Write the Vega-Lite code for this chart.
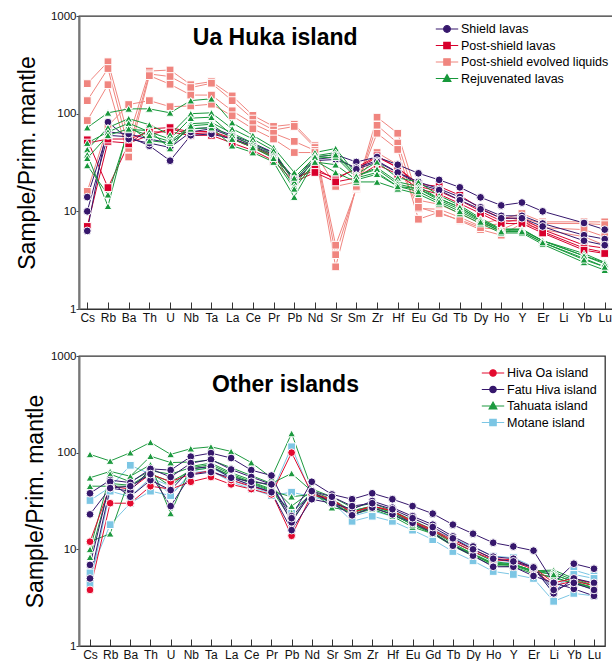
{
"$schema": "https://vega.github.io/schema/vega-lite/v6.json",
"padding": {"left": 15, "top": 9, "right": 0, "bottom": 0},
"spacing": 25,
"datasets": {
"ua_s": [{"i":"E1","g":"Post-shield evolved liquids"},{"i":"E2","g":"Post-shield evolved liquids"},{"i":"E3","g":"Post-shield evolved liquids"},{"i":"E4","g":"Post-shield evolved liquids"},{"i":"P1","g":"Post-shield lavas"},{"i":"P2","g":"Post-shield lavas"},{"i":"P3","g":"Post-shield lavas"},{"i":"S1","g":"Shield lavas"},{"i":"S2","g":"Shield lavas"},{"i":"S3","g":"Shield lavas"},{"i":"R1","g":"Rejuvenated lavas"},{"i":"R2","g":"Rejuvenated lavas"},{"i":"R3","g":"Rejuvenated lavas"},{"i":"R4","g":"Rejuvenated lavas"},{"i":"R5","g":"Rejuvenated lavas"},{"i":"R6","g":"Rejuvenated lavas"}],
"oth_s": [{"i":"M1","g":"Motane island"},{"i":"M2","g":"Motane island"},{"i":"M3","g":"Motane island"},{"i":"T1","g":"Tahuata island"},{"i":"T2","g":"Tahuata island"},{"i":"T3","g":"Tahuata island"},{"i":"T4","g":"Tahuata island"},{"i":"T5","g":"Tahuata island"},{"i":"T6","g":"Tahuata island"},{"i":"H1","g":"Hiva Oa island"},{"i":"H2","g":"Hiva Oa island"},{"i":"F1","g":"Fatu Hiva island"},{"i":"F2","g":"Fatu Hiva island"},{"i":"F3","g":"Fatu Hiva island"},{"i":"F4","g":"Fatu Hiva island"}],
"ua": [
{"i":"E1","e":"Cs","v":203},{"i":"E1","e":"Rb","v":340},{"i":"E1","e":"Ba","v":57},{"i":"E1","e":"Th","v":273},{"i":"E1","e":"U","v":280},{"i":"E1","e":"Nb","v":198},{"i":"E1","e":"Ta","v":213},{"i":"E1","e":"La","v":152},{"i":"E1","e":"Ce","v":96},{"i":"E1","e":"Pr","v":74},{"i":"E1","e":"Pb","v":78},{"i":"E1","e":"Nd","v":47},{"i":"E1","e":"Sr","v":4.5},{"i":"E1","e":"Sm","v":17},{"i":"E1","e":"Zr","v":92},{"i":"E1","e":"Hf","v":63},{"i":"E1","e":"Eu","v":13},{"i":"E1","e":"Gd","v":11.8},{"i":"E1","e":"Tb","v":9.5},{"i":"E1","e":"Dy","v":7.5},{"i":"E1","e":"Ho","v":8.3},{"i":"E1","e":"Y","v":9.5},{"i":"E1","e":"Er","v":7.8},{"i":"E1","e":"Yb","v":7.8},{"i":"E1","e":"Lu","v":7.8},
{"i":"E2","e":"Cs","v":136},{"i":"E2","e":"Rb","v":290},{"i":"E2","e":"Ba","v":44},{"i":"E2","e":"Th","v":255},{"i":"E2","e":"U","v":240},{"i":"E2","e":"Nb","v":185},{"i":"E2","e":"Ta","v":205},{"i":"E2","e":"La","v":136},{"i":"E2","e":"Ce","v":88},{"i":"E2","e":"Pr","v":68},{"i":"E2","e":"Pb","v":74},{"i":"E2","e":"Nd","v":45},{"i":"E2","e":"Sr","v":3.6},{"i":"E2","e":"Sm","v":17.5},{"i":"E2","e":"Zr","v":76},{"i":"E2","e":"Hf","v":50},{"i":"E2","e":"Eu","v":10.7},{"i":"E2","e":"Gd","v":10.5},{"i":"E2","e":"Tb","v":8.7},{"i":"E2","e":"Dy","v":7},{"i":"E2","e":"Ho","v":7.5},{"i":"E2","e":"Y","v":8.5},{"i":"E2","e":"Er","v":7.5},{"i":"E2","e":"Yb","v":7.5},{"i":"E2","e":"Lu","v":7.3},
{"i":"E3","e":"Cs","v":85},{"i":"E3","e":"Rb","v":198},{"i":"E3","e":"Ba","v":36},{"i":"E3","e":"Th","v":245},{"i":"E3","e":"U","v":200},{"i":"E3","e":"Nb","v":155},{"i":"E3","e":"Ta","v":155},{"i":"E3","e":"La","v":107},{"i":"E3","e":"Ce","v":79},{"i":"E3","e":"Pr","v":63},{"i":"E3","e":"Pb","v":52},{"i":"E3","e":"Nd","v":42},{"i":"E3","e":"Sr","v":2.7},{"i":"E3","e":"Sm","v":18},{"i":"E3","e":"Zr","v":63},{"i":"E3","e":"Hf","v":43},{"i":"E3","e":"Eu","v":8.3},{"i":"E3","e":"Gd","v":9.8},{"i":"E3","e":"Tb","v":8},{"i":"E3","e":"Dy","v":6.5},{"i":"E3","e":"Ho","v":5.7},{"i":"E3","e":"Y","v":7.5},{"i":"E3","e":"Er","v":6.5},{"i":"E3","e":"Yb","v":5.5},{"i":"E3","e":"Lu","v":4.5},
{"i":"E4","e":"Cs","v":16},{"i":"E4","e":"Rb","v":75},{"i":"E4","e":"Ba","v":124},{"i":"E4","e":"Th","v":136},{"i":"E4","e":"U","v":118},{"i":"E4","e":"Nb","v":120},{"i":"E4","e":"Ta","v":125},{"i":"E4","e":"La","v":95},{"i":"E4","e":"Ce","v":70},{"i":"E4","e":"Pr","v":55},{"i":"E4","e":"Pb","v":40},{"i":"E4","e":"Nd","v":40},{"i":"E4","e":"Sr","v":18},{"i":"E4","e":"Sm","v":20},{"i":"E4","e":"Zr","v":40},{"i":"E4","e":"Hf","v":30},{"i":"E4","e":"Eu","v":11},{"i":"E4","e":"Gd","v":9.5},{"i":"E4","e":"Tb","v":8.2},{"i":"E4","e":"Dy","v":6.8},{"i":"E4","e":"Ho","v":6.5},{"i":"E4","e":"Y","v":8},{"i":"E4","e":"Er","v":6.8},{"i":"E4","e":"Yb","v":6.5},{"i":"E4","e":"Lu","v":5.5},
{"i":"P1","e":"Cs","v":7},{"i":"P1","e":"Rb","v":52},{"i":"P1","e":"Ba","v":50},{"i":"P1","e":"Th","v":60},{"i":"P1","e":"U","v":70},{"i":"P1","e":"Nb","v":62},{"i":"P1","e":"Ta","v":64},{"i":"P1","e":"La","v":55},{"i":"P1","e":"Ce","v":45},{"i":"P1","e":"Pr","v":36},{"i":"P1","e":"Pb","v":22},{"i":"P1","e":"Nd","v":26},{"i":"P1","e":"Sr","v":22},{"i":"P1","e":"Sm","v":27},{"i":"P1","e":"Zr","v":36},{"i":"P1","e":"Hf","v":28},{"i":"P1","e":"Eu","v":19},{"i":"P1","e":"Gd","v":18},{"i":"P1","e":"Tb","v":14.6},{"i":"P1","e":"Dy","v":10.7},{"i":"P1","e":"Ho","v":8.5},{"i":"P1","e":"Y","v":8.5},{"i":"P1","e":"Er","v":6.5},{"i":"P1","e":"Yb","v":4.5},{"i":"P1","e":"Lu","v":4.2},
{"i":"P2","e":"Cs","v":54},{"i":"P2","e":"Rb","v":17.5},{"i":"P2","e":"Ba","v":49},{"i":"P2","e":"Th","v":70},{"i":"P2","e":"U","v":72},{"i":"P2","e":"Nb","v":65},{"i":"P2","e":"Ta","v":66},{"i":"P2","e":"La","v":56},{"i":"P2","e":"Ce","v":46},{"i":"P2","e":"Pr","v":37},{"i":"P2","e":"Pb","v":21},{"i":"P2","e":"Nd","v":28},{"i":"P2","e":"Sr","v":21},{"i":"P2","e":"Sm","v":28},{"i":"P2","e":"Zr","v":37},{"i":"P2","e":"Hf","v":28},{"i":"P2","e":"Eu","v":18},{"i":"P2","e":"Gd","v":16},{"i":"P2","e":"Tb","v":13},{"i":"P2","e":"Dy","v":10},{"i":"P2","e":"Ho","v":8},{"i":"P2","e":"Y","v":8},{"i":"P2","e":"Er","v":6.2},{"i":"P2","e":"Yb","v":4.2},{"i":"P2","e":"Lu","v":3.8},
{"i":"P3","e":"Cs","v":50},{"i":"P3","e":"Rb","v":55},{"i":"P3","e":"Ba","v":55},{"i":"P3","e":"Th","v":65},{"i":"P3","e":"U","v":65},{"i":"P3","e":"Nb","v":60},{"i":"P3","e":"Ta","v":60},{"i":"P3","e":"La","v":50},{"i":"P3","e":"Ce","v":42},{"i":"P3","e":"Pr","v":33},{"i":"P3","e":"Pb","v":20},{"i":"P3","e":"Nd","v":25},{"i":"P3","e":"Sr","v":20},{"i":"P3","e":"Sm","v":22},{"i":"P3","e":"Zr","v":30},{"i":"P3","e":"Hf","v":24},{"i":"P3","e":"Eu","v":17},{"i":"P3","e":"Gd","v":15},{"i":"P3","e":"Tb","v":12},{"i":"P3","e":"Dy","v":9.5},{"i":"P3","e":"Ho","v":7.5},{"i":"P3","e":"Y","v":7.5},{"i":"P3","e":"Er","v":6},{"i":"P3","e":"Yb","v":4},{"i":"P3","e":"Lu","v":3.7},
{"i":"S1","e":"Cs","v":10},{"i":"S1","e":"Rb","v":60},{"i":"S1","e":"Ba","v":58},{"i":"S1","e":"Th","v":47},{"i":"S1","e":"U","v":33},{"i":"S1","e":"Nb","v":60},{"i":"S1","e":"Ta","v":62},{"i":"S1","e":"La","v":55},{"i":"S1","e":"Ce","v":47},{"i":"S1","e":"Pr","v":38},{"i":"S1","e":"Pb","v":22},{"i":"S1","e":"Nd","v":36},{"i":"S1","e":"Sr","v":38},{"i":"S1","e":"Sm","v":32},{"i":"S1","e":"Zr","v":36},{"i":"S1","e":"Hf","v":30},{"i":"S1","e":"Eu","v":24.5},{"i":"S1","e":"Gd","v":21},{"i":"S1","e":"Tb","v":17.6},{"i":"S1","e":"Dy","v":13.9},{"i":"S1","e":"Ho","v":11.5},{"i":"S1","e":"Y","v":12.3},{"i":"S1","e":"Er","v":10},{"i":"S1","e":"Yb","v":7.6},{"i":"S1","e":"Lu","v":6.5},
{"i":"S2","e":"Cs","v":6.3},{"i":"S2","e":"Rb","v":82},{"i":"S2","e":"Ba","v":55},{"i":"S2","e":"Th","v":50},{"i":"S2","e":"U","v":45},{"i":"S2","e":"Nb","v":65},{"i":"S2","e":"Ta","v":70},{"i":"S2","e":"La","v":58},{"i":"S2","e":"Ce","v":48},{"i":"S2","e":"Pr","v":40},{"i":"S2","e":"Pb","v":20},{"i":"S2","e":"Nd","v":33},{"i":"S2","e":"Sr","v":34},{"i":"S2","e":"Sm","v":28},{"i":"S2","e":"Zr","v":33},{"i":"S2","e":"Hf","v":25},{"i":"S2","e":"Eu","v":20},{"i":"S2","e":"Gd","v":17},{"i":"S2","e":"Tb","v":14},{"i":"S2","e":"Dy","v":11},{"i":"S2","e":"Ho","v":9},{"i":"S2","e":"Y","v":9},{"i":"S2","e":"Er","v":7.5},{"i":"S2","e":"Yb","v":5.7},{"i":"S2","e":"Lu","v":5.2},
{"i":"S3","e":"Cs","v":14},{"i":"S3","e":"Rb","v":65},{"i":"S3","e":"Ba","v":62},{"i":"S3","e":"Th","v":55},{"i":"S3","e":"U","v":50},{"i":"S3","e":"Nb","v":70},{"i":"S3","e":"Ta","v":72},{"i":"S3","e":"La","v":60},{"i":"S3","e":"Ce","v":50},{"i":"S3","e":"Pr","v":40},{"i":"S3","e":"Pb","v":21},{"i":"S3","e":"Nd","v":34},{"i":"S3","e":"Sr","v":36},{"i":"S3","e":"Sm","v":27},{"i":"S3","e":"Zr","v":32},{"i":"S3","e":"Hf","v":25},{"i":"S3","e":"Eu","v":19},{"i":"S3","e":"Gd","v":16.5},{"i":"S3","e":"Tb","v":13},{"i":"S3","e":"Dy","v":10.5},{"i":"S3","e":"Ho","v":8.5},{"i":"S3","e":"Y","v":8.5},{"i":"S3","e":"Er","v":7},{"i":"S3","e":"Yb","v":5},{"i":"S3","e":"Lu","v":4.5},
{"i":"R1","e":"Cs","v":72},{"i":"R1","e":"Rb","v":102},{"i":"R1","e":"Ba","v":112},{"i":"R1","e":"Th","v":112},{"i":"R1","e":"U","v":102},{"i":"R1","e":"Nb","v":136},{"i":"R1","e":"Ta","v":142},{"i":"R1","e":"La","v":81},{"i":"R1","e":"Ce","v":60},{"i":"R1","e":"Pr","v":45},{"i":"R1","e":"Pb","v":25},{"i":"R1","e":"Nd","v":40},{"i":"R1","e":"Sr","v":44},{"i":"R1","e":"Sm","v":24},{"i":"R1","e":"Zr","v":32},{"i":"R1","e":"Hf","v":22},{"i":"R1","e":"Eu","v":20},{"i":"R1","e":"Gd","v":14.5},{"i":"R1","e":"Tb","v":11.5},{"i":"R1","e":"Dy","v":8.5},{"i":"R1","e":"Ho","v":6.6},{"i":"R1","e":"Y","v":6.6},{"i":"R1","e":"Er","v":5},{"i":"R1","e":"Yb","v":3.7},{"i":"R1","e":"Lu","v":3.0},
{"i":"R2","e":"Cs","v":43},{"i":"R2","e":"Rb","v":72},{"i":"R2","e":"Ba","v":89},{"i":"R2","e":"Th","v":77},{"i":"R2","e":"U","v":61},{"i":"R2","e":"Nb","v":100},{"i":"R2","e":"Ta","v":102},{"i":"R2","e":"La","v":70},{"i":"R2","e":"Ce","v":55},{"i":"R2","e":"Pr","v":42},{"i":"R2","e":"Pb","v":20},{"i":"R2","e":"Nd","v":37},{"i":"R2","e":"Sr","v":40},{"i":"R2","e":"Sm","v":23},{"i":"R2","e":"Zr","v":28},{"i":"R2","e":"Hf","v":20},{"i":"R2","e":"Eu","v":18},{"i":"R2","e":"Gd","v":13.5},{"i":"R2","e":"Tb","v":11},{"i":"R2","e":"Dy","v":8.2},{"i":"R2","e":"Ho","v":6.5},{"i":"R2","e":"Y","v":6.5},{"i":"R2","e":"Er","v":5},{"i":"R2","e":"Yb","v":3.5},{"i":"R2","e":"Lu","v":3.0},
{"i":"R3","e":"Cs","v":29.5},{"i":"R3","e":"Rb","v":14.8},{"i":"R3","e":"Ba","v":69},{"i":"R3","e":"Th","v":67},{"i":"R3","e":"U","v":44},{"i":"R3","e":"Nb","v":79},{"i":"R3","e":"Ta","v":81},{"i":"R3","e":"La","v":63},{"i":"R3","e":"Ce","v":50},{"i":"R3","e":"Pr","v":38},{"i":"R3","e":"Pb","v":18},{"i":"R3","e":"Nd","v":35},{"i":"R3","e":"Sr","v":36},{"i":"R3","e":"Sm","v":22},{"i":"R3","e":"Zr","v":25},{"i":"R3","e":"Hf","v":18},{"i":"R3","e":"Eu","v":17},{"i":"R3","e":"Gd","v":13},{"i":"R3","e":"Tb","v":10.5},{"i":"R3","e":"Dy","v":8},{"i":"R3","e":"Ho","v":6.2},{"i":"R3","e":"Y","v":6.2},{"i":"R3","e":"Er","v":4.8},{"i":"R3","e":"Yb","v":3.3},{"i":"R3","e":"Lu","v":2.7},
{"i":"R4","e":"Cs","v":38},{"i":"R4","e":"Rb","v":11.3},{"i":"R4","e":"Ba","v":75},{"i":"R4","e":"Th","v":53},{"i":"R4","e":"U","v":50},{"i":"R4","e":"Nb","v":70},{"i":"R4","e":"Ta","v":72},{"i":"R4","e":"La","v":47},{"i":"R4","e":"Ce","v":40},{"i":"R4","e":"Pr","v":32},{"i":"R4","e":"Pb","v":14},{"i":"R4","e":"Nd","v":33},{"i":"R4","e":"Sr","v":25},{"i":"R4","e":"Sm","v":20},{"i":"R4","e":"Zr","v":20},{"i":"R4","e":"Hf","v":17},{"i":"R4","e":"Eu","v":15},{"i":"R4","e":"Gd","v":12},{"i":"R4","e":"Tb","v":9.5},{"i":"R4","e":"Dy","v":7.5},{"i":"R4","e":"Ho","v":6},{"i":"R4","e":"Y","v":6},{"i":"R4","e":"Er","v":4.6},{"i":"R4","e":"Yb","v":3.0},{"i":"R4","e":"Lu","v":2.5},
{"i":"R5","e":"Cs","v":50},{"i":"R5","e":"Rb","v":65},{"i":"R5","e":"Ba","v":80},{"i":"R5","e":"Th","v":65},{"i":"R5","e":"U","v":55},{"i":"R5","e":"Nb","v":90},{"i":"R5","e":"Ta","v":92},{"i":"R5","e":"La","v":60},{"i":"R5","e":"Ce","v":47},{"i":"R5","e":"Pr","v":36},{"i":"R5","e":"Pb","v":22},{"i":"R5","e":"Nd","v":36},{"i":"R5","e":"Sr","v":38},{"i":"R5","e":"Sm","v":23},{"i":"R5","e":"Zr","v":27},{"i":"R5","e":"Hf","v":19},{"i":"R5","e":"Eu","v":17},{"i":"R5","e":"Gd","v":13.5},{"i":"R5","e":"Tb","v":11},{"i":"R5","e":"Dy","v":8.2},{"i":"R5","e":"Ho","v":6.4},{"i":"R5","e":"Y","v":6.4},{"i":"R5","e":"Er","v":5},{"i":"R5","e":"Yb","v":3.5},{"i":"R5","e":"Lu","v":2.9},
{"i":"R6","e":"Cs","v":35},{"i":"R6","e":"Rb","v":60},{"i":"R6","e":"Ba","v":70},{"i":"R6","e":"Th","v":60},{"i":"R6","e":"U","v":52},{"i":"R6","e":"Nb","v":75},{"i":"R6","e":"Ta","v":78},{"i":"R6","e":"La","v":55},{"i":"R6","e":"Ce","v":45},{"i":"R6","e":"Pr","v":35},{"i":"R6","e":"Pb","v":17},{"i":"R6","e":"Nd","v":32},{"i":"R6","e":"Sr","v":30},{"i":"R6","e":"Sm","v":21},{"i":"R6","e":"Zr","v":24},{"i":"R6","e":"Hf","v":18},{"i":"R6","e":"Eu","v":16},{"i":"R6","e":"Gd","v":12.5},{"i":"R6","e":"Tb","v":10},{"i":"R6","e":"Dy","v":7.8},{"i":"R6","e":"Ho","v":6.2},{"i":"R6","e":"Y","v":6.2},{"i":"R6","e":"Er","v":4.8},{"i":"R6","e":"Yb","v":3.2},{"i":"R6","e":"Lu","v":2.7}
],
"oth": [
{"i":"M1","e":"Cs","v":32},{"i":"M1","e":"Rb","v":44},{"i":"M1","e":"Ba","v":74},{"i":"M1","e":"Th","v":60},{"i":"M1","e":"U","v":36},{"i":"M1","e":"Nb","v":62},{"i":"M1","e":"Ta","v":65},{"i":"M1","e":"La","v":52},{"i":"M1","e":"Ce","v":44},{"i":"M1","e":"Pr","v":38},{"i":"M1","e":"Pb","v":115},{"i":"M1","e":"Nd","v":36},{"i":"M1","e":"Sr","v":32},{"i":"M1","e":"Sm","v":22},{"i":"M1","e":"Zr","v":25},{"i":"M1","e":"Hf","v":22},{"i":"M1","e":"Eu","v":19},{"i":"M1","e":"Gd","v":16},{"i":"M1","e":"Tb","v":13},{"i":"M1","e":"Dy","v":10.5},{"i":"M1","e":"Ho","v":8.5},{"i":"M1","e":"Y","v":8.2},{"i":"M1","e":"Er","v":6.6},{"i":"M1","e":"Li","v":3.5},{"i":"M1","e":"Yb","v":6.1},{"i":"M1","e":"Lu","v":5.3},
{"i":"M2","e":"Cs","v":5.7},{"i":"M2","e":"Rb","v":18},{"i":"M2","e":"Ba","v":30},{"i":"M2","e":"Th","v":40},{"i":"M2","e":"U","v":36},{"i":"M2","e":"Nb","v":60},{"i":"M2","e":"Ta","v":65},{"i":"M2","e":"La","v":50},{"i":"M2","e":"Ce","v":42},{"i":"M2","e":"Pr","v":36},{"i":"M2","e":"Pb","v":39},{"i":"M2","e":"Nd","v":35},{"i":"M2","e":"Sr","v":31},{"i":"M2","e":"Sm","v":19.5},{"i":"M2","e":"Zr","v":22},{"i":"M2","e":"Hf","v":19.5},{"i":"M2","e":"Eu","v":15.8},{"i":"M2","e":"Gd","v":12.6},{"i":"M2","e":"Tb","v":9.5},{"i":"M2","e":"Dy","v":7.6},{"i":"M2","e":"Ho","v":5.9},{"i":"M2","e":"Y","v":5.5},{"i":"M2","e":"Er","v":5},{"i":"M2","e":"Li","v":2.9},{"i":"M2","e":"Yb","v":3.5},{"i":"M2","e":"Lu","v":3.3},
{"i":"M3","e":"Cs","v":4.4},{"i":"M3","e":"Rb","v":40},{"i":"M3","e":"Ba","v":35},{"i":"M3","e":"Th","v":55},{"i":"M3","e":"U","v":45},{"i":"M3","e":"Nb","v":65},{"i":"M3","e":"Ta","v":70},{"i":"M3","e":"La","v":55},{"i":"M3","e":"Ce","v":46},{"i":"M3","e":"Pr","v":40},{"i":"M3","e":"Pb","v":25},{"i":"M3","e":"Nd","v":37},{"i":"M3","e":"Sr","v":32},{"i":"M3","e":"Sm","v":24},{"i":"M3","e":"Zr","v":28},{"i":"M3","e":"Hf","v":24},{"i":"M3","e":"Eu","v":19},{"i":"M3","e":"Gd","v":15.5},{"i":"M3","e":"Tb","v":12},{"i":"M3","e":"Dy","v":9.5},{"i":"M3","e":"Ho","v":7.5},{"i":"M3","e":"Y","v":7.2},{"i":"M3","e":"Er","v":6.5},{"i":"M3","e":"Li","v":4},{"i":"M3","e":"Yb","v":5.5},{"i":"M3","e":"Lu","v":5},
{"i":"T1","e":"Cs","v":96},{"i":"T1","e":"Rb","v":82},{"i":"T1","e":"Ba","v":100},{"i":"T1","e":"Th","v":128},{"i":"T1","e":"U","v":96},{"i":"T1","e":"Nb","v":110},{"i":"T1","e":"Ta","v":115},{"i":"T1","e":"La","v":103},{"i":"T1","e":"Ce","v":79},{"i":"T1","e":"Pr","v":55},{"i":"T1","e":"Pb","v":158},{"i":"T1","e":"Nd","v":42},{"i":"T1","e":"Sr","v":35},{"i":"T1","e":"Sm","v":27},{"i":"T1","e":"Zr","v":30},{"i":"T1","e":"Hf","v":25},{"i":"T1","e":"Eu","v":20},{"i":"T1","e":"Gd","v":16},{"i":"T1","e":"Tb","v":12},{"i":"T1","e":"Dy","v":9.5},{"i":"T1","e":"Ho","v":7.5},{"i":"T1","e":"Y","v":7},{"i":"T1","e":"Er","v":6},{"i":"T1","e":"Li","v":6.1},{"i":"T1","e":"Yb","v":5},{"i":"T1","e":"Lu","v":4.2},
{"i":"T2","e":"Cs","v":55},{"i":"T2","e":"Rb","v":64},{"i":"T2","e":"Ba","v":57},{"i":"T2","e":"Th","v":92},{"i":"T2","e":"U","v":79},{"i":"T2","e":"Nb","v":80},{"i":"T2","e":"Ta","v":84},{"i":"T2","e":"La","v":70},{"i":"T2","e":"Ce","v":58},{"i":"T2","e":"Pr","v":48},{"i":"T2","e":"Pb","v":61},{"i":"T2","e":"Nd","v":40},{"i":"T2","e":"Sr","v":27},{"i":"T2","e":"Sm","v":25},{"i":"T2","e":"Zr","v":28},{"i":"T2","e":"Hf","v":24},{"i":"T2","e":"Eu","v":19},{"i":"T2","e":"Gd","v":15.5},{"i":"T2","e":"Tb","v":11.5},{"i":"T2","e":"Dy","v":9},{"i":"T2","e":"Ho","v":7.2},{"i":"T2","e":"Y","v":7},{"i":"T2","e":"Er","v":6},{"i":"T2","e":"Li","v":5.8},{"i":"T2","e":"Yb","v":4.8},{"i":"T2","e":"Lu","v":4.2},
{"i":"T3","e":"Cs","v":12},{"i":"T3","e":"Rb","v":14.5},{"i":"T3","e":"Ba","v":57},{"i":"T3","e":"Th","v":75},{"i":"T3","e":"U","v":23.5},{"i":"T3","e":"Nb","v":72},{"i":"T3","e":"Ta","v":78},{"i":"T3","e":"La","v":62},{"i":"T3","e":"Ce","v":52},{"i":"T3","e":"Pr","v":45},{"i":"T3","e":"Pb","v":28},{"i":"T3","e":"Nd","v":40},{"i":"T3","e":"Sr","v":33},{"i":"T3","e":"Sm","v":25},{"i":"T3","e":"Zr","v":28},{"i":"T3","e":"Hf","v":24},{"i":"T3","e":"Eu","v":19},{"i":"T3","e":"Gd","v":15},{"i":"T3","e":"Tb","v":11},{"i":"T3","e":"Dy","v":9},{"i":"T3","e":"Ho","v":7},{"i":"T3","e":"Y","v":7},{"i":"T3","e":"Er","v":6},{"i":"T3","e":"Li","v":5.5},{"i":"T3","e":"Yb","v":4.6},{"i":"T3","e":"Lu","v":4},
{"i":"T4","e":"Cs","v":10},{"i":"T4","e":"Rb","v":60},{"i":"T4","e":"Ba","v":50},{"i":"T4","e":"Th","v":65},{"i":"T4","e":"U","v":60},{"i":"T4","e":"Nb","v":70},{"i":"T4","e":"Ta","v":75},{"i":"T4","e":"La","v":60},{"i":"T4","e":"Ce","v":50},{"i":"T4","e":"Pr","v":42},{"i":"T4","e":"Pb","v":20},{"i":"T4","e":"Nd","v":38},{"i":"T4","e":"Sr","v":32},{"i":"T4","e":"Sm","v":24},{"i":"T4","e":"Zr","v":27},{"i":"T4","e":"Hf","v":23},{"i":"T4","e":"Eu","v":18},{"i":"T4","e":"Gd","v":15},{"i":"T4","e":"Tb","v":11},{"i":"T4","e":"Dy","v":8.8},{"i":"T4","e":"Ho","v":7},{"i":"T4","e":"Y","v":6.8},{"i":"T4","e":"Er","v":5.8},{"i":"T4","e":"Li","v":5},{"i":"T4","e":"Yb","v":4.5},{"i":"T4","e":"Lu","v":4},
{"i":"T5","e":"Cs","v":45},{"i":"T5","e":"Rb","v":45},{"i":"T5","e":"Ba","v":45},{"i":"T5","e":"Th","v":60},{"i":"T5","e":"U","v":50},{"i":"T5","e":"Nb","v":65},{"i":"T5","e":"Ta","v":70},{"i":"T5","e":"La","v":58},{"i":"T5","e":"Ce","v":48},{"i":"T5","e":"Pr","v":40},{"i":"T5","e":"Pb","v":35},{"i":"T5","e":"Nd","v":37},{"i":"T5","e":"Sr","v":31},{"i":"T5","e":"Sm","v":23},{"i":"T5","e":"Zr","v":26},{"i":"T5","e":"Hf","v":22},{"i":"T5","e":"Eu","v":17},{"i":"T5","e":"Gd","v":14.5},{"i":"T5","e":"Tb","v":10.8},{"i":"T5","e":"Dy","v":8.5},{"i":"T5","e":"Ho","v":6.8},{"i":"T5","e":"Y","v":6.6},{"i":"T5","e":"Er","v":5.6},{"i":"T5","e":"Li","v":5.2},{"i":"T5","e":"Yb","v":4.4},{"i":"T5","e":"Lu","v":3.9},
{"i":"T6","e":"Cs","v":8.3},{"i":"T6","e":"Rb","v":48},{"i":"T6","e":"Ba","v":46},{"i":"T6","e":"Th","v":62},{"i":"T6","e":"U","v":45},{"i":"T6","e":"Nb","v":68},{"i":"T6","e":"Ta","v":72},{"i":"T6","e":"La","v":58},{"i":"T6","e":"Ce","v":49},{"i":"T6","e":"Pr","v":41},{"i":"T6","e":"Pb","v":24},{"i":"T6","e":"Nd","v":38},{"i":"T6","e":"Sr","v":30},{"i":"T6","e":"Sm","v":23},{"i":"T6","e":"Zr","v":27},{"i":"T6","e":"Hf","v":23},{"i":"T6","e":"Eu","v":18},{"i":"T6","e":"Gd","v":14.5},{"i":"T6","e":"Tb","v":11},{"i":"T6","e":"Dy","v":8.8},{"i":"T6","e":"Ho","v":7},{"i":"T6","e":"Y","v":6.9},{"i":"T6","e":"Er","v":5.9},{"i":"T6","e":"Li","v":5.5},{"i":"T6","e":"Yb","v":4.6},{"i":"T6","e":"Lu","v":4},
{"i":"H1","e":"Cs","v":3.8},{"i":"H1","e":"Rb","v":30},{"i":"H1","e":"Ba","v":30},{"i":"H1","e":"Th","v":45},{"i":"H1","e":"U","v":42},{"i":"H1","e":"Nb","v":50},{"i":"H1","e":"Ta","v":56},{"i":"H1","e":"La","v":47},{"i":"H1","e":"Ce","v":42},{"i":"H1","e":"Pr","v":37},{"i":"H1","e":"Pb","v":100},{"i":"H1","e":"Nd","v":38},{"i":"H1","e":"Sr","v":33},{"i":"H1","e":"Sm","v":24},{"i":"H1","e":"Zr","v":28},{"i":"H1","e":"Hf","v":25},{"i":"H1","e":"Eu","v":19},{"i":"H1","e":"Gd","v":15.5},{"i":"H1","e":"Tb","v":12},{"i":"H1","e":"Dy","v":9.5},{"i":"H1","e":"Ho","v":7.8},{"i":"H1","e":"Y","v":7.5},{"i":"H1","e":"Er","v":6.2},{"i":"H1","e":"Li","v":4.2},{"i":"H1","e":"Yb","v":4.7},{"i":"H1","e":"Lu","v":4.2},
{"i":"H2","e":"Cs","v":12},{"i":"H2","e":"Rb","v":45},{"i":"H2","e":"Ba","v":42},{"i":"H2","e":"Th","v":60},{"i":"H2","e":"U","v":50},{"i":"H2","e":"Nb","v":60},{"i":"H2","e":"Ta","v":65},{"i":"H2","e":"La","v":52},{"i":"H2","e":"Ce","v":45},{"i":"H2","e":"Pr","v":39},{"i":"H2","e":"Pb","v":13.8},{"i":"H2","e":"Nd","v":37},{"i":"H2","e":"Sr","v":32},{"i":"H2","e":"Sm","v":24},{"i":"H2","e":"Zr","v":28},{"i":"H2","e":"Hf","v":25},{"i":"H2","e":"Eu","v":19.5},{"i":"H2","e":"Gd","v":16},{"i":"H2","e":"Tb","v":12.5},{"i":"H2","e":"Dy","v":10},{"i":"H2","e":"Ho","v":8},{"i":"H2","e":"Y","v":7.8},{"i":"H2","e":"Er","v":6.5},{"i":"H2","e":"Li","v":4.5},{"i":"H2","e":"Yb","v":5},{"i":"H2","e":"Lu","v":4.4},
{"i":"F1","e":"Cs","v":38},{"i":"F1","e":"Rb","v":52},{"i":"F1","e":"Ba","v":49},{"i":"F1","e":"Th","v":68},{"i":"F1","e":"U","v":66},{"i":"F1","e":"Nb","v":91},{"i":"F1","e":"Ta","v":99},{"i":"F1","e":"La","v":88},{"i":"F1","e":"Ce","v":66},{"i":"F1","e":"Pr","v":58},{"i":"F1","e":"Pb","v":22},{"i":"F1","e":"Nd","v":50},{"i":"F1","e":"Sr","v":37},{"i":"F1","e":"Sm","v":33},{"i":"F1","e":"Zr","v":38},{"i":"F1","e":"Hf","v":33},{"i":"F1","e":"Eu","v":28},{"i":"F1","e":"Gd","v":23.4},{"i":"F1","e":"Tb","v":18},{"i":"F1","e":"Dy","v":14.5},{"i":"F1","e":"Ho","v":11.7},{"i":"F1","e":"Y","v":10.7},{"i":"F1","e":"Er","v":9.7},{"i":"F1","e":"Li","v":4.5},{"i":"F1","e":"Yb","v":7.1},{"i":"F1","e":"Lu","v":6.3},
{"i":"F2","e":"Cs","v":23},{"i":"F2","e":"Rb","v":43},{"i":"F2","e":"Ba","v":40},{"i":"F2","e":"Th","v":68},{"i":"F2","e":"U","v":56},{"i":"F2","e":"Nb","v":78},{"i":"F2","e":"Ta","v":85},{"i":"F2","e":"La","v":67},{"i":"F2","e":"Ce","v":56},{"i":"F2","e":"Pr","v":47},{"i":"F2","e":"Pb","v":19},{"i":"F2","e":"Nd","v":40},{"i":"F2","e":"Sr","v":30},{"i":"F2","e":"Sm","v":26},{"i":"F2","e":"Zr","v":31.6},{"i":"F2","e":"Hf","v":27},{"i":"F2","e":"Eu","v":22},{"i":"F2","e":"Gd","v":18},{"i":"F2","e":"Tb","v":13.6},{"i":"F2","e":"Dy","v":10.7},{"i":"F2","e":"Ho","v":8.4},{"i":"F2","e":"Y","v":8},{"i":"F2","e":"Er","v":6.4},{"i":"F2","e":"Li","v":3.5},{"i":"F2","e":"Yb","v":5},{"i":"F2","e":"Lu","v":4.5},
{"i":"F3","e":"Cs","v":6.9},{"i":"F3","e":"Rb","v":50},{"i":"F3","e":"Ba","v":35},{"i":"F3","e":"Th","v":52},{"i":"F3","e":"U","v":41},{"i":"F3","e":"Nb","v":68},{"i":"F3","e":"Ta","v":72},{"i":"F3","e":"La","v":55},{"i":"F3","e":"Ce","v":46},{"i":"F3","e":"Pr","v":39},{"i":"F3","e":"Pb","v":15.8},{"i":"F3","e":"Nd","v":33},{"i":"F3","e":"Sr","v":30},{"i":"F3","e":"Sm","v":22.5},{"i":"F3","e":"Zr","v":27},{"i":"F3","e":"Hf","v":23},{"i":"F3","e":"Eu","v":18.8},{"i":"F3","e":"Gd","v":14.8},{"i":"F3","e":"Tb","v":10.9},{"i":"F3","e":"Dy","v":8.6},{"i":"F3","e":"Ho","v":6.6},{"i":"F3","e":"Y","v":6.6},{"i":"F3","e":"Er","v":5.3},{"i":"F3","e":"Li","v":4.5},{"i":"F3","e":"Yb","v":3.9},{"i":"F3","e":"Lu","v":3.3},
{"i":"F4","e":"Cs","v":5},{"i":"F4","e":"Rb","v":43},{"i":"F4","e":"Ba","v":45},{"i":"F4","e":"Th","v":60},{"i":"F4","e":"U","v":28},{"i":"F4","e":"Nb","v":59},{"i":"F4","e":"Ta","v":63},{"i":"F4","e":"La","v":55},{"i":"F4","e":"Ce","v":50},{"i":"F4","e":"Pr","v":47},{"i":"F4","e":"Pb","v":21},{"i":"F4","e":"Nd","v":40},{"i":"F4","e":"Sr","v":35},{"i":"F4","e":"Sm","v":28},{"i":"F4","e":"Zr","v":30},{"i":"F4","e":"Hf","v":26},{"i":"F4","e":"Eu","v":21},{"i":"F4","e":"Gd","v":17},{"i":"F4","e":"Tb","v":13},{"i":"F4","e":"Dy","v":10},{"i":"F4","e":"Ho","v":8},{"i":"F4","e":"Y","v":7.5},{"i":"F4","e":"Er","v":6.5},{"i":"F4","e":"Li","v":3.8},{"i":"F4","e":"Yb","v":4.5},{"i":"F4","e":"Lu","v":3.8}
]
},
"vconcat": [
{
"width": 534, "height": 293,
"data": {"name": "ua"},
"transform": [{"lookup": "i", "from": {"data": {"name": "ua_s"}, "key": "i", "fields": ["g"]}}],
"encoding": {
"x": {"field": "e", "type": "nominal", "sort": ["Cs","Rb","Ba","Th","U","Nb","Ta","La","Ce","Pr","Pb","Nd","Sr","Sm","Zr","Hf","Eu","Gd","Tb","Dy","Ho","Y","Er","Li","Yb","Lu"], "scale": {"type": "point", "domain": ["Cs","Rb","Ba","Th","U","Nb","Ta","La","Ce","Pr","Pb","Nd","Sr","Sm","Zr","Hf","Eu","Gd","Tb","Dy","Ho","Y","Er","Li","Yb","Lu"], "padding": 0.4}, "axis": {"title": null, "labelAngle": 0, "tickSize": -7, "labelPadding": 10, "labelFontSize": 12, "domainColor": "#333", "tickColor": "#333", "labelColor": "#111"}},
"y": {"field": "v", "type": "quantitative", "scale": {"type": "log", "domain": [1, 1000]}, "axis": {"values": [1, 10, 100, 1000], "format": "d", "tickSize": 3, "labelPadding": 0, "labelFontSize": 11.5, "labelFlush": false, "title": "Sample/Prim. mantle", "titleFontSize": 23, "titleFontWeight": "normal", "titlePadding": 11, "titleColor": "#000", "domainColor": "#777", "domainWidth": 2, "tickColor": "#444", "labelColor": "#111"}},
"color": {"field": "g", "type": "nominal", "scale": {"domain": ["Shield lavas","Post-shield lavas","Post-shield evolved liquids","Rejuvenated lavas"], "range": ["#36176c","#d8002c","#f0857f","#17983b"]},
"legend": {"title": null, "orient": "top-right", "offset": 4, "padding": 0, "labelFont": "Liberation Sans", "labelFontSize": 12.5, "labelOffset": 5, "symbolSize": 256, "rowPadding": 0.5, "labelLimit": 300,
"encode": {"symbols": {"update": {
"shape": {"signal": "datum.value==='Shield lavas'?'M-1.4,0H1.4M0.42,0A0.42,0.42 0 1,1 -0.42,0A0.42,0.42 0 1,1 0.42,0Z':datum.value==='Rejuvenated lavas'?'M-1.4,0H1.4M0,-0.48L0.48,0.36H-0.48Z':'M-1.4,0H1.4M-0.4,-0.4H0.4V0.4H-0.4Z'"},
"stroke": {"signal": "datum.value==='Shield lavas'?'#36176c':datum.value==='Post-shield lavas'?'#d8002c':datum.value==='Post-shield evolved liquids'?'#f0857f':'#17983b'"},
"fill": {"signal": "datum.value==='Shield lavas'?'#36176c':datum.value==='Post-shield lavas'?'#d8002c':datum.value==='Post-shield evolved liquids'?'#f0857f':'#17983b'"},
"strokeWidth": {"value": 1.2}, "opacity": {"value": 1}}}}}}
},
"layer": [
{"mark": {"type": "line", "strokeWidth": 1}, "encoding": {"detail": {"field": "i"}}},
{"transform": [{"filter": "datum.g === 'Post-shield lavas' || datum.g === 'Post-shield evolved liquids'"}], "mark": {"type": "point", "shape": "square", "filled": true, "size": 60, "stroke": "white", "strokeWidth": 1, "opacity": 1}},
{"transform": [{"filter": "datum.g === 'Shield lavas'"}], "mark": {"type": "point", "shape": "circle", "filled": true, "size": 60, "stroke": "white", "strokeWidth": 1, "opacity": 1}},
{"transform": [{"filter": "datum.g === 'Rejuvenated lavas'"}], "mark": {"type": "point", "shape": "triangle-up", "filled": true, "size": 60, "stroke": "white", "strokeWidth": 1, "opacity": 1}},
{"transform": [{"filter": "datum.i === 'E1' && datum.e === 'Cs'"}], "mark": {"type": "text", "font": "Liberation Sans", "fontSize": 23, "fontWeight": "bold", "align": "left", "baseline": "alphabetic", "dx": 2, "fill": "#000"},
"encoding": {"x": {"datum": "Nb"}, "y": {"datum": 500}, "text": {"value": "Ua Huka island"}, "color": {"value": "#000"}}}
]
},
{
"width": 526, "height": 290,
"data": {"name": "oth"},
"transform": [{"lookup": "i", "from": {"data": {"name": "oth_s"}, "key": "i", "fields": ["g"]}}],
"encoding": {
"x": {"field": "e", "type": "nominal", "sort": ["Cs","Rb","Ba","Th","U","Nb","Ta","La","Ce","Pr","Pb","Nd","Sr","Sm","Zr","Hf","Eu","Gd","Tb","Dy","Ho","Y","Er","Li","Yb","Lu"], "scale": {"type": "point", "domain": ["Cs","Rb","Ba","Th","U","Nb","Ta","La","Ce","Pr","Pb","Nd","Sr","Sm","Zr","Hf","Eu","Gd","Tb","Dy","Ho","Y","Er","Li","Yb","Lu"], "padding": 0.546}, "axis": {"title": null, "labelAngle": 0, "tickSize": -7, "labelPadding": 10, "labelFontSize": 12, "domainColor": "#333", "tickColor": "#333", "labelColor": "#111"}},
"y": {"field": "v", "type": "quantitative", "scale": {"type": "log", "domain": [1, 1000]}, "axis": {"values": [1, 10, 100, 1000], "format": "d", "tickSize": 3, "labelPadding": 0, "labelFontSize": 11.5, "labelFlush": false, "title": "Sample/Prim. mantle", "titleFontSize": 23, "titleFontWeight": "normal", "titlePadding": 3, "titleColor": "#000", "domainColor": "#777", "domainWidth": 2, "tickColor": "#444", "labelColor": "#111"}},
"color": {"field": "g", "type": "nominal", "scale": {"domain": ["Hiva Oa island","Fatu Hiva island","Tahuata island","Motane island"], "range": ["#e30b2f","#36176c","#1e9a40","#7cc6e4"]},
"legend": {"title": null, "orient": "top-right", "offset": 8, "padding": 0, "labelFont": "Liberation Sans", "labelFontSize": 12.5, "labelOffset": 5, "symbolSize": 256, "rowPadding": 0.5, "labelLimit": 300,
"encode": {"symbols": {"update": {
"shape": {"signal": "datum.value==='Tahuata island'?'M-1.4,0H1.4M0,-0.48L0.48,0.36H-0.48Z':datum.value==='Motane island'?'M-1.4,0H1.4M-0.4,-0.4H0.4V0.4H-0.4Z':'M-1.4,0H1.4M0.4,0A0.4,0.4 0 1,1 -0.4,0A0.4,0.4 0 1,1 0.4,0Z'"},
"stroke": {"signal": "datum.value==='Hiva Oa island'?'#e30b2f':datum.value==='Fatu Hiva island'?'#36176c':datum.value==='Tahuata island'?'#1e9a40':'#7cc6e4'"},
"fill": {"signal": "datum.value==='Hiva Oa island'?'#e30b2f':datum.value==='Fatu Hiva island'?'#36176c':datum.value==='Tahuata island'?'#1e9a40':'#7cc6e4'"},
"strokeWidth": {"value": 1.2}, "opacity": {"value": 1}}}}}}
},
"layer": [
{"mark": {"type": "line", "strokeWidth": 1}, "encoding": {"detail": {"field": "i"}}},
{"transform": [{"filter": "datum.g === 'Motane island'"}], "mark": {"type": "point", "shape": "square", "filled": true, "size": 60, "stroke": "white", "strokeWidth": 1, "opacity": 1}},
{"transform": [{"filter": "datum.g === 'Tahuata island'"}], "mark": {"type": "point", "shape": "triangle-up", "filled": true, "size": 60, "stroke": "white", "strokeWidth": 1, "opacity": 1}},
{"transform": [{"filter": "datum.g === 'Hiva Oa island' || datum.g === 'Fatu Hiva island'"}], "mark": {"type": "point", "shape": "circle", "filled": true, "size": 60, "stroke": "white", "strokeWidth": 1, "opacity": 1}},
{"transform": [{"filter": "datum.i === 'M1' && datum.e === 'Cs'"}], "mark": {"type": "text", "font": "Liberation Sans", "fontSize": 23, "fontWeight": "bold", "align": "left", "baseline": "alphabetic", "dx": 1, "fill": "#000"},
"encoding": {"x": {"datum": "Ta"}, "y": {"datum": 425}, "text": {"value": "Other islands"}, "color": {"value": "#000"}}}
]
}
],
"resolve": {"scale": {"color": "independent"}, "legend": {"color": "independent"}},
"config": {
"font": "Liberation Sans",
"view": {"stroke": "#333", "strokeWidth": 1.3},
"axis": {"grid": false, "labelFont": "Liberation Sans", "titleFont": "Liberation Sans"}
}
}
